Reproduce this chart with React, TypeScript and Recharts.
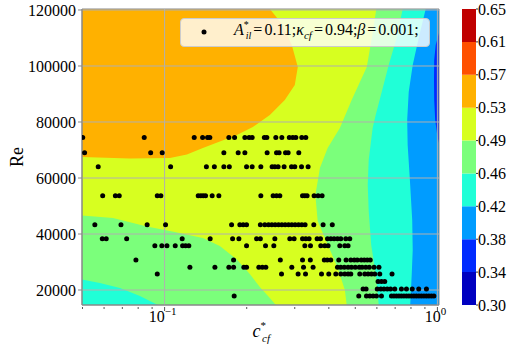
import React from 'react';
import {
  ComposedChart,
  Area,
  Scatter,
  XAxis,
  YAxis,
  ReferenceLine,
  ReferenceArea,
  Legend,
  Label,
} from 'recharts';

const SERIF = '"Liberation Serif", "DejaVu Serif", serif';

// axis limits
const X_MIN = 0.0498;
const X_MAX = 1.0136;
const Y_MIN = 14643;
const Y_MAX = 120357;

const xMajorTicks = [0.1, 1];
const xMinorTicks = [0.05, 0.06, 0.07, 0.08, 0.09, 0.2, 0.3, 0.4, 0.5, 0.6, 0.7, 0.8, 0.9];
const yTicks = [20000, 40000, 60000, 80000, 100000, 120000];

// contour levels and their jet colours (one colour per band)
const levels = [0.3, 0.3389, 0.3778, 0.4167, 0.4556, 0.4944, 0.5333, 0.5722, 0.6111, 0.65];
const bandColors = ['#0000C0', '#002AFF', '#009CFF', '#20FFD7', '#7BFF7B', '#D7FF20', '#FFB100', '#FF5000', '#C00000'];

// contour regions as [c*_cf, Re] outlines, painted from the lowest level up
const regionAll: number[][] = [
  [X_MIN, Y_MIN], [X_MIN, Y_MAX], [X_MAX, Y_MAX], [X_MAX, Y_MIN], [X_MIN, Y_MIN],
];
const region034: number[][] = [
  [X_MAX, 111800], [0.9858, 107500], [0.9734, 102100], [0.9717, 95000], [0.9734, 87900],
  [0.9816, 80700], [0.9983, 75400], [X_MAX, 72500], [X_MAX, 111800],
];
const region042: number[][] = [
  [X_MIN, Y_MIN], [X_MIN, Y_MAX], [0.906, Y_MAX], [0.854, 110000], [0.812, 100400],
  [0.785, 90700], [0.775, 80700], [0.778, 71800], [0.792, 60000], [0.8085, 45000],
  [0.812, 34300], [0.805, 25400], [0.795, Y_MIN], [X_MIN, Y_MIN],
];
const region046: number[][] = [
  [X_MIN, 23750], [X_MIN, Y_MAX], [0.746, Y_MAX], [0.709, 110000], [0.663, 100400],
  [0.625, 90700], [0.594, 82500], [0.579, 77900], [0.56, 66400], [0.5555, 57500],
  [0.56, 48200], [0.572, 36100], [0.597, 24300], [0.6095, Y_MIN], [0.0945, Y_MIN],
  [0.0812, 17860], [0.0686, 20700], [0.0579, 22500], [X_MIN, 23750],
];
const region049: number[][] = [
  [X_MIN, 46600], [X_MIN, Y_MAX], [0.597, Y_MAX], [0.579, 111800], [0.551, 99600],
  [0.485, 87900], [0.439, 77900], [0.396, 70700], [0.371, 63600], [0.357, 53900],
  [0.364, 44600], [0.391, 37500], [0.431, 27900], [0.458, 20000], [0.465, Y_MIN],
  [0.2557, Y_MIN], [0.2431, 17100], [0.2234, 21100], [0.2053, 25700], [0.184, 30900],
  [0.1594, 35700], [0.1381, 38600], [0.1046, 41100], [0.0861, 42700], [0.0647, 45700],
  [X_MIN, 46600],
];
const region053: number[][] = [
  [X_MIN, 67500], [X_MIN, Y_MAX], [0.2431, Y_MAX], [0.2712, 114600], [0.2926, 107500],
  [0.3078, 99600], [0.3001, 93200], [0.2758, 87900], [0.2431, 82500], [0.2106, 78200],
  [0.184, 75400], [0.1594, 73000], [0.1381, 70700], [0.1207, 68400], [0.1046, 67100],
  [0.0746, 67000], [X_MIN, 67500],
];

// sampled points: Re rows and the c*_cf values in each row
const reRows = [74500, 69000, 64000, 53700, 43300, 38300, 35800, 30700, 28100, 25700, 23000, 20400, 17900];
const cRows: number[][] = [
  [0.0501, 0.0842, 0.1284, 0.1378, 0.1437, 0.1465, 0.172, 0.1805, 0.1969, 0.2041, 0.2094, 0.2321, 0.237, 0.2557, 0.269, 0.2865, 0.2951, 0.3027, 0.3184, 0.3293],
  [0.0509, 0.0889, 0.098, 0.1649, 0.1861, 0.1969, 0.2376, 0.2572, 0.2629, 0.2775, 0.2837, 0.3104],
  [0.0571, 0.1052, 0.1423, 0.1522, 0.1649, 0.1727, 0.1997, 0.2094, 0.2253, 0.2478, 0.2536, 0.2607, 0.2742, 0.2919, 0.3001, 0.3176, 0.3358],
  [0.0593, 0.066, 0.0682, 0.094, 0.0969, 0.1328, 0.1358, 0.1385, 0.1413, 0.1494, 0.1581, 0.2253, 0.2499, 0.2572, 0.2645, 0.3203, 0.3266, 0.333, 0.3532, 0.3653, 0.3779],
  [0.0555, 0.0692, 0.0863, 0.1008, 0.176, 0.1887, 0.1941, 0.1997, 0.2244, 0.233, 0.2404, 0.2472, 0.2542, 0.2616, 0.269, 0.2766, 0.2846, 0.2926, 0.3009, 0.3097, 0.3184, 0.3274, 0.3523, 0.3811, 0.4118],
  [0.0591, 0.0611, 0.0726, 0.116, 0.1469, 0.1775, 0.1872, 0.2173, 0.2244, 0.2536, 0.2877, 0.2984, 0.3203, 0.3293, 0.3386, 0.3623, 0.3728, 0.3955, 0.4066, 0.4181, 0.4303, 0.4424, 0.4615, 0.4773],
  [0.0921, 0.0977, 0.102, 0.1094, 0.1164, 0.1194, 0.1227, 0.1997, 0.2344, 0.2514, 0.3266, 0.3426, 0.3737, 0.3866, 0.3975, 0.4387, 0.4576, 0.4705],
  [0.0785, 0.179, 0.2656, 0.3203, 0.3421, 0.3849, 0.3948, 0.4066, 0.435, 0.4627, 0.4814, 0.4958, 0.5085, 0.5259, 0.5394, 0.5532, 0.5674],
  [0.1238, 0.1529, 0.172, 0.179, 0.1952, 0.1997, 0.2215, 0.2282, 0.235, 0.2926, 0.323, 0.3502, 0.4303, 0.4424, 0.4557, 0.4705, 0.4842, 0.5, 0.5171, 0.5295, 0.5463, 0.5627, 0.5859, 0.6106],
  [0.094, 0.2683, 0.3086, 0.3285, 0.376, 0.3998, 0.4242, 0.4424, 0.4576, 0.4705, 0.4814, 0.5193, 0.5417, 0.557, 0.5732, 0.5894, 0.6148, 0.682],
  [0.606, 0.6236, 0.6412],
  [0.534, 0.5477, 0.6019, 0.62, 0.6369, 0.6549, 0.6734, 0.6977, 0.7382, 0.7701, 0.8087, 0.8542, 0.9116],
  [0.1799, 0.515, 0.5495, 0.565, 0.581, 0.5979, 0.6236, 0.6785, 0.693, 0.7077, 0.7228, 0.7382, 0.7539, 0.7701, 0.7863, 0.803, 0.8202, 0.8376, 0.8555, 0.8737, 0.8924, 0.9115, 0.9308, 0.9507, 0.9709],
];

const toPoints = (poly: number[][]) => poly.map(([x, y]) => ({ x, y }));

const regions = [
  { pts: regionAll, color: bandColors[2] },
  { pts: region034, color: bandColors[1] },
  { pts: region042, color: bandColors[3] },
  { pts: region046, color: bandColors[4] },
  { pts: region049, color: bandColors[5] },
  { pts: region053, color: bandColors[6] },
];

const scatterPoints = reRows.flatMap((re, i) => cRows[i].map((c) => ({ x: c, y: re })));

const XTick = (props: any) => {
  const { x, y, payload } = props;
  const v = payload.value;
  const major = xMajorTicks.includes(v);
  const exp = Math.round(Math.log10(v));
  return (
    <g>
      <line x1={x} x2={x} y1={y} y2={y + (major ? 4 : 2)} stroke="#555" />
      {major && (
        <text x={x - 2} y={y + 15} textAnchor="middle" fontFamily={SERIF} fontSize={16} fill="#000">
          10
          <tspan dy={-7} fontSize={11}>{exp < 0 ? `\u2212${-exp}` : `${exp}`}</tspan>
        </text>
      )}
    </g>
  );
};

const YTick = (props: any) => {
  const { x, y, payload } = props;
  return (
    <text x={x} y={y} dy="0.35em" textAnchor="end" fontFamily={SERIF} fontSize={16} fill="#000">
      {payload.value}
    </text>
  );
};

const BarTick = (props: any) => {
  const { x, y, payload } = props;
  return (
    <text x={x} y={y} dy="0.35em" textAnchor="start" fontFamily={SERIF} fontSize={16} fill="#000">
      {payload.value.toFixed(2)}
    </text>
  );
};

const XLabel = (props: any) => {
  const { x, y, width } = props.viewBox;
  const cx = x + width / 2 - 8;
  return (
    <text x={cx} y={y + 32} fontFamily={SERIF} fontSize={18} fill="#000">
      <tspan fontStyle="italic">c</tspan>
      <tspan dy={-8} fontSize={11}>*</tspan>
      <tspan dx={-4} dy={13} fontSize={11} fontStyle="italic">cf</tspan>
    </text>
  );
};

const YLabel = (props: any) => {
  const { x, y, height } = props.viewBox;
  const cx = x + 17;
  const cy = y + height / 2;
  return (
    <text
      x={cx}
      y={cy}
      transform={`rotate(-90 ${cx} ${cy})`}
      textAnchor="middle"
      dominantBaseline="central"
      fontFamily={SERIF}
      fontSize={18}
      fill="#000"
    >
      Re
    </text>
  );
};

const LegendBox = () => (
  <div
    style={{
      width: 250,
      height: 29,
      boxSizing: 'border-box',
      border: '1px solid #cccccc',
      borderRadius: 4,
      background: 'rgba(255,255,255,0.8)',
    }}
  >
    <svg width={248} height={27} style={{ display: 'block' }}>
      <circle cx={23} cy={13} r={2.5} fill="#000" />
      <text x={53} y={16} fontFamily={SERIF} fontSize={16} fill="#000">
        <tspan fontStyle="italic">A</tspan>
        <tspan dy={-7} fontSize={10}>*</tspan>
        <tspan dx={-3} dy={11} fontSize={10} fontStyle="italic">il</tspan>
        <tspan dy={-4} dx={2}>=</tspan>
        <tspan dx={2}>0.11;</tspan>
        <tspan fontStyle="italic">κ</tspan>
        <tspan dy={4} fontSize={11} fontStyle="italic">cf</tspan>
        <tspan dy={-4} dx={2}>=</tspan>
        <tspan dx={2}>0.94;</tspan>
        <tspan fontStyle="italic">β</tspan>
        <tspan dx={2}>=</tspan>
        <tspan dx={2}>0.001;</tspan>
      </text>
    </svg>
  </div>
);

const ContourChart = () => (
  <ComposedChart width={515} height={349} margin={{ top: 9, right: 76, bottom: 0, left: 0 }}>
    <XAxis
      type="number"
      dataKey="x"
      scale="log"
      domain={[X_MIN, X_MAX]}
      allowDataOverflow
      ticks={[...xMinorTicks, ...xMajorTicks].sort((a, b) => a - b)}
      interval={0}
      height={44}
      tick={<XTick />}
      tickLine={false}
      tickSize={0}
      stroke="#888"
    >
      <Label content={XLabel} />
    </XAxis>
    <YAxis
      type="number"
      dataKey="y"
      domain={[Y_MIN, Y_MAX]}
      allowDataOverflow
      ticks={yTicks}
      interval={0}
      width={82}
      tickSize={4}
      tickMargin={2}
      stroke="#888"
      tick={<YTick />}
    >
      <Label content={YLabel} />
    </YAxis>
    {regions.map((r, i) => (
      <Area
        key={i}
        data={toPoints(r.pts)}
        dataKey="y"
        type="linear"
        fill={r.color}
        fillOpacity={1}
        stroke="none"
        dot={false}
        activeDot={false}
        isAnimationActive={false}
      />
    ))}
    {yTicks.map((t) => (
      <ReferenceLine key={t} y={t} stroke="#b0b0b0" strokeWidth={1} />
    ))}
    {xMajorTicks.map((t) => (
      <ReferenceLine key={t} x={t} stroke="#b0b0b0" strokeWidth={1} />
    ))}
    <Scatter
      data={scatterPoints}
      fill="#000"
      isAnimationActive={false}
      shape={(p: any) => <circle cx={p.cx} cy={p.cy} r={2.5} fill="#000" />}
    />
    <ReferenceArea x1={X_MIN} x2={X_MAX} y1={Y_MIN} y2={Y_MAX} fill="none" stroke="#888" strokeWidth={1} />
    <Legend
      verticalAlign="middle"
      align="center"
      layout="horizontal"
      wrapperStyle={{ left: 180, top: 18, width: 250, height: 29 }}
      content={() => <LegendBox />}
    />
  </ComposedChart>
);

const ColorBar = () => (
  <ComposedChart width={60} height={349} margin={{ top: 9, right: 0, bottom: 44, left: 7 }}>
    <XAxis type="number" dataKey="x" domain={[0, 1]} hide />
    <YAxis
      type="number"
      dataKey="y"
      orientation="right"
      domain={[levels[0], levels[levels.length - 1]]}
      ticks={levels}
      interval={0}
      width={39}
      tickSize={2}
      tickMargin={0}
      axisLine={false}
      stroke="#333"
      tick={<BarTick />}
    />
    {bandColors.map((color, i) => (
      <Area
        key={i}
        data={toPoints([
          [0, levels[i]], [1, levels[i]], [1, levels[i + 1]], [0, levels[i + 1]], [0, levels[i]],
        ])}
        dataKey="y"
        type="linear"
        fill={color}
        fillOpacity={1}
        stroke="none"
        dot={false}
        activeDot={false}
        isAnimationActive={false}
      />
    ))}
  </ComposedChart>
);

export default function App() {
  return (
    <div style={{ position: 'absolute', left: 0, top: 0, width: 515, height: 349, background: '#fff' }}>
      <div style={{ position: 'absolute', left: 0, top: 0 }}>
        <ContourChart />
      </div>
      <div style={{ position: 'absolute', left: 455, top: 0 }}>
        <ColorBar />
      </div>
    </div>
  );
}
